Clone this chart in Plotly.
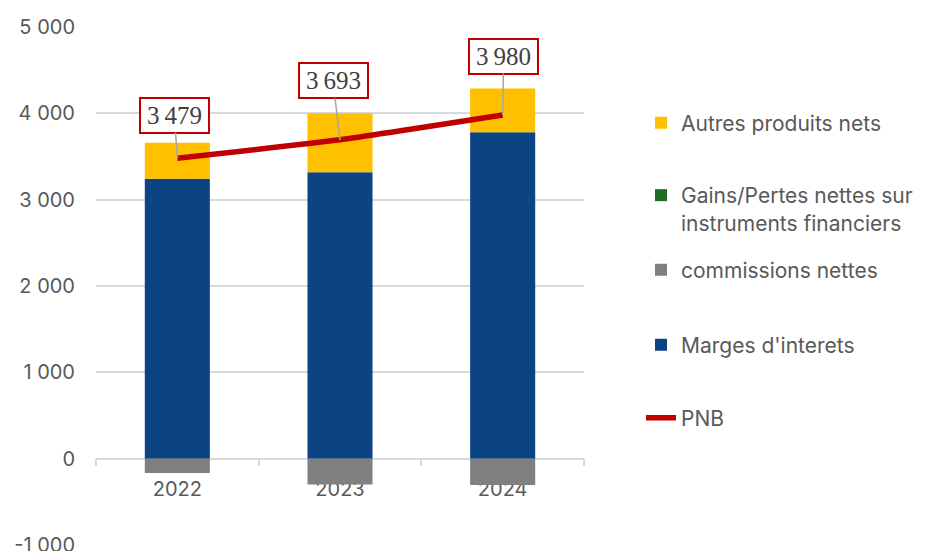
import plotly.graph_objects as go

years = ["2022", "2023", "2024"]
marges = [3241, 3318, 3781]
commissions = [-166, -298, -305]
gains = [0, 0, 0]
autres = [417, 683, 506]
pnb = [3479, 3693, 3980]
pnb_labels = ["3\u2009479", "3\u2009693", "3\u2009980"]
y_tick_vals = [-1000, 0, 1000, 2000, 3000, 4000, 5000]
y_tick_text = ["-1 000", "0", "1 000", "2 000", "3 000", "4 000", "5 000"]

FONT = "Inter"
TXT = "#595959"
OFF = 8  # page body margin

fig = go.Figure()
fig.add_trace(go.Bar(x=years, y=marges, name="Marges d'interets",
                     marker=dict(color="#0C4483", line=dict(width=0)), legend="legend4"))
fig.add_trace(go.Bar(x=years, y=commissions, name="commissions nettes",
                     marker=dict(color="#808080", line=dict(width=0)), legend="legend3"))
fig.add_trace(go.Bar(x=years, y=gains, name="Gains/Pertes nettes sur<br>instruments financiers",
                     marker=dict(color="#1D6B27", line=dict(width=0)), legend="legend2"))
fig.add_trace(go.Bar(x=years, y=autres, name="Autres produits nets",
                     marker=dict(color="#FFC000", line=dict(width=0)), legend="legend"))
fig.add_trace(go.Scatter(x=years, y=pnb, name="PNB", mode="lines",
                         line=dict(color="#C00000", width=5.5, shape="spline", smoothing=0.4),
                         legend="legend5"))

offsets = [(-3, -43), (-7, -59), (1, -59)]
for i, (yv, lab, (ax, ay)) in enumerate(zip(pnb, pnb_labels, offsets)):
    fig.add_annotation(x=i, y=yv, xref="x", yref="y", text=lab, showarrow=True, arrowhead=0,
                       arrowwidth=1.5, arrowcolor="#A6A6A6", ax=ax, ay=ay,
                       bgcolor="white", bordercolor="#C00000", borderwidth=2,
                       borderpad=0, width=67, height=33,
                       font=dict(family="Liberation Serif", size=25, color="#404040"))

def py2paper(py):
    return (545 - py) / 518

lx = (641 - 96) / 488
leg_common = dict(xref="paper", yref="paper", x=lx, xanchor="left", bgcolor="rgba(0,0,0,0)",
                  borderwidth=0, font=dict(family=FONT, size=21, color=TXT))

fig.update_layout(
    width=926 - OFF, height=551 - OFF,
    margin=dict(l=96 - OFF, r=342, t=27 - OFF, b=6, autoexpand=False),
    paper_bgcolor="white", plot_bgcolor="white",
    barmode="relative", bargap=0.6,
    showlegend=True,
    legend=dict(**leg_common, y=py2paper(123), yanchor="middle"),
    legend2=dict(**leg_common, y=py2paper(175), yanchor="top", valign="top"),
    legend3=dict(**leg_common, y=py2paper(270), yanchor="middle"),
    legend4=dict(**leg_common, y=py2paper(345), yanchor="middle"),
    legend5=dict(**leg_common, y=py2paper(418), yanchor="middle"),
    xaxis=dict(type="category", anchor="free", position=1/6, showline=True,
               linecolor="#D9D9D9", linewidth=1.5, layer="below traces",
               ticks="outside", tickson="boundaries", ticklen=7, tickcolor="#D9D9D9", tickwidth=1.5,
               ticklabelstandoff=13,
               tickfont=dict(family=FONT, size=20, color=TXT), showgrid=False,
               range=[-0.5, 2.5]),
    yaxis=dict(range=[-1000, 5000], tickvals=y_tick_vals, ticktext=y_tick_text,
               showgrid=True, gridcolor="#D9D9D9", gridwidth=1.5,
               zeroline=True, zerolinecolor="#D9D9D9", zerolinewidth=1.5,
               ticks="", ticklabelstandoff=20, ticklabeloverflow="allow",
               tickfont=dict(family=FONT, size=20, color=TXT)),
)

fig.write_html("out.html")
